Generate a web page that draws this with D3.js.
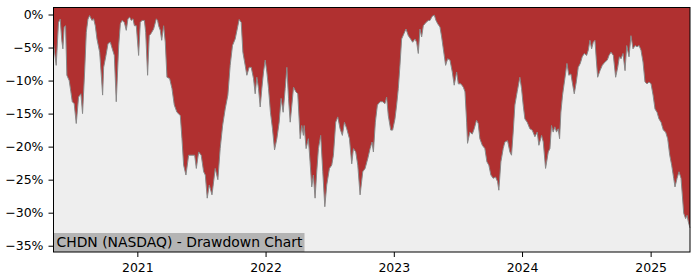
<!DOCTYPE html>
<html>
<head>
<meta charset="utf-8">
<script src="https://cdn.jsdelivr.net/npm/d3@7"></script>
<style>
	body { margin: 0; background: #fff; }
	svg { display: block; font-family: "DejaVu Sans", sans-serif; }
</style>
</head>
<body>
<svg></svg>
<script>
/* data: time as fractional year, drawdown in % */
const years = [
	2020.348, 2020.369, 2020.387, 2020.400, 2020.413, 2020.421, 2020.431, 2020.442, 2020.452, 2020.470,
	2020.483, 2020.494, 2020.509, 2020.525, 2020.543, 2020.561, 2020.574, 2020.590, 2020.603, 2020.616,
	2020.629, 2020.647, 2020.660, 2020.673, 2020.686, 2020.707, 2020.717, 2020.730, 2020.738, 2020.756,
	2020.772, 2020.790, 2020.805, 2020.821, 2020.836, 2020.855, 2020.868, 2020.881, 2020.899, 2020.914,
	2020.927, 2020.940, 2020.953, 2020.966, 2020.977, 2020.992, 2021.010, 2021.023, 2021.036, 2021.055,
	2021.065, 2021.080, 2021.093, 2021.106, 2021.127, 2021.148, 2021.158, 2021.166, 2021.179, 2021.190,
	2021.205, 2021.218, 2021.231, 2021.252, 2021.270, 2021.288, 2021.309, 2021.335, 2021.348, 2021.361,
	2021.379, 2021.400, 2021.426, 2021.447, 2021.460, 2021.478, 2021.498, 2021.517, 2021.530, 2021.545,
	2021.561, 2021.582, 2021.595, 2021.607, 2021.628, 2021.646, 2021.665, 2021.685, 2021.706, 2021.724,
	2021.742, 2021.763, 2021.779, 2021.794, 2021.810, 2021.823, 2021.841, 2021.854, 2021.872, 2021.888,
	2021.906, 2021.919, 2021.932, 2021.945, 2021.958, 2021.971, 2021.984, 2021.997, 2022.010, 2022.023,
	2022.038, 2022.054, 2022.070, 2022.088, 2022.106, 2022.121, 2022.137, 2022.153, 2022.166, 2022.179,
	2022.192, 2022.205, 2022.218, 2022.236, 2022.251, 2022.270, 2022.282, 2022.295, 2022.301, 2022.316,
	2022.334, 2022.347, 2022.360, 2022.373, 2022.386, 2022.399, 2022.412, 2022.430, 2022.446, 2022.462,
	2022.477, 2022.498, 2022.516, 2022.529, 2022.547, 2022.563, 2022.581, 2022.599, 2022.615, 2022.633,
	2022.654, 2022.672, 2022.685, 2022.703, 2022.719, 2022.737, 2022.758, 2022.776, 2022.797, 2022.815,
	2022.830, 2022.841, 2022.856, 2022.872, 2022.893, 2022.913, 2022.931, 2022.944, 2022.957, 2022.976,
	2022.991, 2023.009, 2023.022, 2023.035, 2023.048, 2023.061, 2023.079, 2023.095, 2023.113, 2023.131,
	2023.147, 2023.165, 2023.178, 2023.191, 2023.204, 2023.217, 2023.230, 2023.251, 2023.269, 2023.282,
	2023.300, 2023.316, 2023.329, 2023.342, 2023.360, 2023.373, 2023.386, 2023.404, 2023.420, 2023.438,
	2023.456, 2023.471, 2023.490, 2023.503, 2023.523, 2023.542, 2023.555, 2023.568, 2023.575, 2023.593,
	2023.612, 2023.627, 2023.645, 2023.658, 2023.671, 2023.690, 2023.710, 2023.726, 2023.741, 2023.757,
	2023.775, 2023.793, 2023.809, 2023.819, 2023.835, 2023.853, 2023.866, 2023.887, 2023.905, 2023.918,
	2023.931, 2023.944, 2023.962, 2023.983, 2023.996, 2024.009, 2024.022, 2024.040, 2024.061, 2024.079,
	2024.100, 2024.118, 2024.131, 2024.152, 2024.165, 2024.183, 2024.204, 2024.217, 2024.229, 2024.242,
	2024.255, 2024.268, 2024.281, 2024.292, 2024.302, 2024.315, 2024.333, 2024.349, 2024.364, 2024.380,
	2024.390, 2024.406, 2024.422, 2024.437, 2024.453, 2024.468, 2024.484, 2024.502, 2024.515, 2024.528,
	2024.541, 2024.554, 2024.567, 2024.577, 2024.588, 2024.606, 2024.624, 2024.645, 2024.663, 2024.676,
	2024.692, 2024.710, 2024.728, 2024.744, 2024.757, 2024.770, 2024.785, 2024.801, 2024.814, 2024.832,
	2024.847, 2024.863, 2024.879, 2024.894, 2024.910, 2024.925, 2024.941, 2024.956, 2024.972, 2024.988,
	2025.003, 2025.019, 2025.034, 2025.050, 2025.065, 2025.081, 2025.099, 2025.117, 2025.133, 2025.149,
	2025.164, 2025.180, 2025.190, 2025.206, 2025.221, 2025.237, 2025.247, 2025.258, 2025.273, 2025.284,
	2025.294, 2025.307
];
const drawdown = [
	-4.4, -7.7, -1.2, -0.7, -4.0, -5.2, -1.9, -1.7, -9.2, -10.0,
	-11.7, -13.2, -13.5, -16.5, -12.5, -12.0, -15.0, -8.7, -2.7, -0.7,
	-0.15, -0.9, -0.65, -1.7, -3.7, -5.7, -8.4, -12.2, -8.0, -6.2,
	-4.4, -4.2, -5.2, -6.2, -13.2, -4.7, -1.4, -0.9, -1.2, -2.4,
	-0.65, -0.4, -0.9, -0.65, -1.7, -1.7, -6.2, -1.2, -0.9, -0.9,
	-2.7, -9.2, -3.2, -2.9, -2.2, -0.65, -0.9, -1.7, -2.4, -3.9,
	-1.7, -4.2, -9.5, -9.7, -11.2, -13.7, -14.8, -15.3, -18.8, -22.8,
	-24.3, -21.3, -21.3, -21.3, -23.3, -20.8, -21.3, -23.8, -24.3, -27.8,
	-25.8, -27.3, -25.3, -23.3, -25.0, -20.3, -16.8, -14.3, -12.2, -7.7,
	-4.7, -3.7, -2.2, -0.75, -1.2, -5.7, -7.7, -9.2, -8.0, -8.0,
	-9.7, -12.0, -9.5, -11.2, -14.0, -11.2, -8.7, -6.9, -8.7, -11.2,
	-14.8, -17.3, -20.5, -18.8, -16.3, -12.7, -14.8, -11.2, -8.0, -12.7,
	-16.3, -13.7, -11.0, -11.7, -12.0, -18.8, -16.8, -18.3, -16.8, -20.3,
	-18.8, -22.3, -26.1, -24.3, -27.8, -23.8, -20.3, -18.3, -23.8, -29.1,
	-25.8, -23.3, -22.8, -21.3, -16.3, -15.5, -17.3, -18.3, -16.3, -17.3,
	-18.8, -22.6, -20.3, -20.8, -22.8, -27.3, -23.8, -23.3, -21.8, -20.3,
	-19.3, -20.8, -16.3, -13.7, -13.2, -13.2, -13.5, -12.5, -15.3, -17.5,
	-17.5, -15.8, -13.7, -11.2, -7.7, -3.7, -2.9, -2.2, -3.2, -3.7,
	-4.2, -3.7, -4.2, -5.9, -2.2, -3.4, -1.7, -1.2, -0.9, -0.9,
	-0.25, -0.1, -0.9, -1.4, -1.9, -3.4, -5.2, -7.7, -6.7, -6.9,
	-8.7, -10.7, -8.7, -10.5, -10.5, -11.0, -11.7, -16.3, -19.5, -17.8,
	-18.1, -17.3, -16.0, -16.5, -18.8, -19.8, -20.3, -22.3, -22.8, -24.3,
	-24.8, -24.6, -25.3, -26.6, -22.3, -20.3, -19.3, -19.1, -20.8, -21.3,
	-17.8, -13.7, -11.7, -9.5, -11.2, -13.7, -15.8, -16.3, -17.3, -17.5,
	-18.5, -17.8, -19.8, -18.3, -19.3, -23.3, -20.8, -20.3, -16.8, -17.8,
	-17.0, -17.8, -17.3, -18.8, -14.8, -12.2, -9.7, -7.4, -9.2, -9.0,
	-10.2, -12.0, -10.2, -8.0, -7.4, -6.4, -5.9, -6.2, -5.4, -3.9,
	-5.2, -4.2, -3.9, -6.7, -9.5, -8.5, -7.7, -7.2, -6.9, -6.2,
	-5.7, -6.2, -9.5, -8.0, -6.4, -6.7, -5.9, -8.5, -4.7, -6.4,
	-3.2, -5.2, -4.7, -4.9, -4.7, -5.4, -7.2, -10.2, -10.5, -10.2,
	-10.5, -12.2, -14.3, -14.8, -15.8, -16.3, -17.5, -17.8, -18.8, -21.3,
	-22.8, -24.8, -26.1, -24.8, -23.8, -24.8, -27.3, -30.1, -30.9, -30.4,
	-31.4, -32.3
];
const yTicks = [0, -5, -10, -15, -20, -25, -30, -35];
const yLimits = [-35.95, 1.06];
const title = 'CHDN (NASDAQ) - Drawdown Chart';

/* layout */
const width = 700, height = 280;
const plot = {'L': 53.5, 'R': 690, 'T': 7.5, 'B': 252};
const fillColor = '#b03030';
const faceColor = '#eeeeee';

function yearToDate(v) {
	const y = Math.floor(v);
	const start = new Date(y, 0, 1), end = new Date(y + 1, 0, 1);
	return new Date(+start + (v - y) * (end - start));
}

const points = years.map((v, i) => ({date: yearToDate(v), value: drawdown[i]}));

const svg = d3.select('svg')
	.attr('width', width)
	.attr('height', height);

const x = d3.scaleTime()
	.domain([points[0].date, points[points.length - 1].date])
	.range([plot.L, plot.R]);
const y = d3.scaleLinear()
	.domain(yLimits)
	.range([plot.B, plot.T]);

/* axes background */
svg.append('rect')
	.attr('x', plot.L)
	.attr('y', plot.T)
	.attr('width', plot.R - plot.L)
	.attr('height', plot.B - plot.T)
	.attr('fill', faceColor);

/* red area between the drawdown and the top of the axes */
const area = d3.area()
	.x((d) => x(d.date))
	.y0(plot.T)
	.y1((d) => y(d.value));
svg.append('path')
	.datum(points)
	.attr('d', area)
	.attr('fill', fillColor);

const line = d3.line()
	.x((d) => x(d.date))
	.y((d) => y(d.value));
svg.append('path')
	.datum(points)
	.attr('d', line)
	.attr('fill', 'none')
	.attr('stroke', '#888')
	.attr('stroke-width', 1)
	.attr('stroke-linejoin', 'round');

/* label box, bottom left */
svg.append('rect')
	.attr('x', plot.L)
	.attr('y', 233)
	.attr('width', 251)
	.attr('height', plot.B - 233)
	.attr('fill', '#b4b4b4');
svg.append('text')
	.attr('x', plot.L + 3)
	.attr('y', 246.7)
	.attr('font-size', '13.9px')
	.attr('fill', '#000')
	.text(title);

/* axes */
const yAxis = svg.append('g')
	.attr('transform', `translate(${plot.L},0)`)
	.call(d3.axisLeft(y)
		.tickValues(yTicks)
		.tickSize(5)
		.tickPadding(5)
		.tickFormat((d) => d3.format('d')(d) + '%'));
const xAxis = svg.append('g')
	.attr('transform', `translate(0,${plot.B})`)
	.call(d3.axisBottom(x)
		.ticks(d3.timeYear.every(1))
		.tickSize(5)
		.tickPadding(6)
		.tickFormat(d3.timeFormat('%Y')));
[yAxis, xAxis].forEach(function (g) {
	g.select('.domain').remove();
	g.selectAll('line').attr('stroke', '#000').attr('stroke-width', 1);
	g.selectAll('text')
		.attr('font-family', '"DejaVu Sans", sans-serif')
		.attr('font-size', '12.5px')
		.attr('fill', '#000');
});

/* spines */
svg.append('rect')
	.attr('x', plot.L)
	.attr('y', plot.T)
	.attr('width', plot.R - plot.L)
	.attr('height', plot.B - plot.T)
	.attr('fill', 'none')
	.attr('stroke', '#000')
	.attr('stroke-width', 1);
</script>
</body>
</html>
